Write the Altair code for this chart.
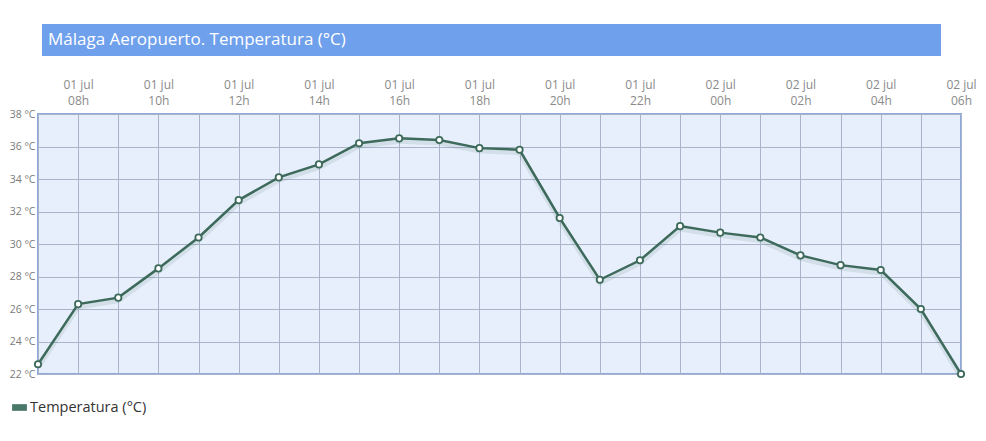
import altair as alt
import pandas as pd

title_text = "Málaga Aeropuerto. Temperatura (°C)"
series_name = "Temperatura (°C)"
times = [
    "2023-07-01T07:00:00Z", "2023-07-01T08:00:00Z", "2023-07-01T09:00:00Z", "2023-07-01T10:00:00Z",
    "2023-07-01T11:00:00Z", "2023-07-01T12:00:00Z", "2023-07-01T13:00:00Z", "2023-07-01T14:00:00Z",
    "2023-07-01T15:00:00Z", "2023-07-01T16:00:00Z", "2023-07-01T17:00:00Z", "2023-07-01T18:00:00Z",
    "2023-07-01T19:00:00Z", "2023-07-01T20:00:00Z", "2023-07-01T21:00:00Z", "2023-07-01T22:00:00Z",
    "2023-07-01T23:00:00Z", "2023-07-02T00:00:00Z", "2023-07-02T01:00:00Z", "2023-07-02T02:00:00Z",
    "2023-07-02T03:00:00Z", "2023-07-02T04:00:00Z", "2023-07-02T05:00:00Z", "2023-07-02T06:00:00Z",
]
temps = [22.6, 26.3, 26.7, 28.5, 30.4, 32.7, 34.1, 34.9, 36.2, 36.5, 36.4, 35.9,
         35.8, 31.6, 27.8, 29.0, 31.1, 30.7, 30.4, 29.3, 28.7, 28.4, 26.0, 22.0]
y_ticks = [22, 24, 26, 28, 30, 32, 34, 36, 38]

df = pd.DataFrame({"t": times, "v": temps, "s": [series_name] * len(times)})

LINE = "#3d6a5b"
FONT = "Open Sans"

x_enc = alt.X(
    "t:T",
    scale=alt.Scale(type="utc", nice=False),
    axis=alt.Axis(
        orient="top", title=None, values=times, grid=True, gridColor="#aab4c9",
        gridWidth=1, domain=False, ticks=False, labelOverlap=False, labelFlush=False,
        labelFont=FONT, labelFontSize=12, labelColor="#8a8a8a", labelPadding=23,
        labelLineHeight=16,
        labelExpr="utchours(datum.value) % 2 == 0 ? [utcFormat(datum.value, '%d') + ' jul', utcFormat(datum.value, '%H') + 'h'] : ''",
    ),
)
y_enc = alt.Y(
    "v:Q",
    scale=alt.Scale(domain=[22, 38], nice=False, zero=False),
    axis=alt.Axis(
        title=None, values=y_ticks, grid=True, gridColor="#aab4c9", gridWidth=1,
        domain=False, ticks=False, labelFont=FONT, labelFontSize=10.5,
        labelColor="#7a7a7a", labelPadding=3, labelExpr="datum.value + ' °C'",
    ),
)

base = alt.Chart(df)

shadow = base.mark_line(color=LINE, opacity=0.12, strokeWidth=5, yOffset=3).encode(x=x_enc, y=y_enc)
line = base.mark_line(strokeWidth=2.5).encode(
    x=x_enc, y=y_enc,
    color=alt.Color(
        "s:N", scale=alt.Scale(range=[LINE]),
        legend=alt.Legend(
            title=None, orient="none", legendX=-26, legendY=286,
            symbolType="M-1,-0.45H1V0.45H-1Z", symbolSize=220,
            symbolFillColor="#4a7868", symbolStrokeColor="#4a7868", symbolStrokeWidth=0,
            labelFont=FONT, labelFontSize=14.5, labelColor="#333333", labelOffset=3,
        ),
    ),
)
points = base.mark_point(filled=True, fill="white", stroke=LINE, strokeWidth=1.8, size=40, opacity=1).encode(
    x=x_enc, y=y_enc
)

tdf = pd.DataFrame({"title": [title_text]})
title_bar = alt.Chart(tdf).mark_rect(color="#6fa0ec").encode(
    x=alt.value(4), x2=alt.value(903), y=alt.value(-90), y2=alt.value(-58)
)
title_txt = alt.Chart(tdf).mark_text(
    align="left", baseline="middle", color="white", font=FONT, fontSize=17
).encode(text="title:N", x=alt.value(10), y=alt.value(-74))

chart = alt.layer(shadow, line, points, title_bar, title_txt).properties(
    width=923, height=260,
    autosize=alt.AutoSizeParams(type="none"),
    padding={"left": 30, "top": 106, "right": 17, "bottom": 45},
).configure_view(
    fill="#e8effc", stroke="#8ea9dc", strokeWidth=2
)

chart.save("out.html", embed_options={"renderer": "svg", "actions": False})
